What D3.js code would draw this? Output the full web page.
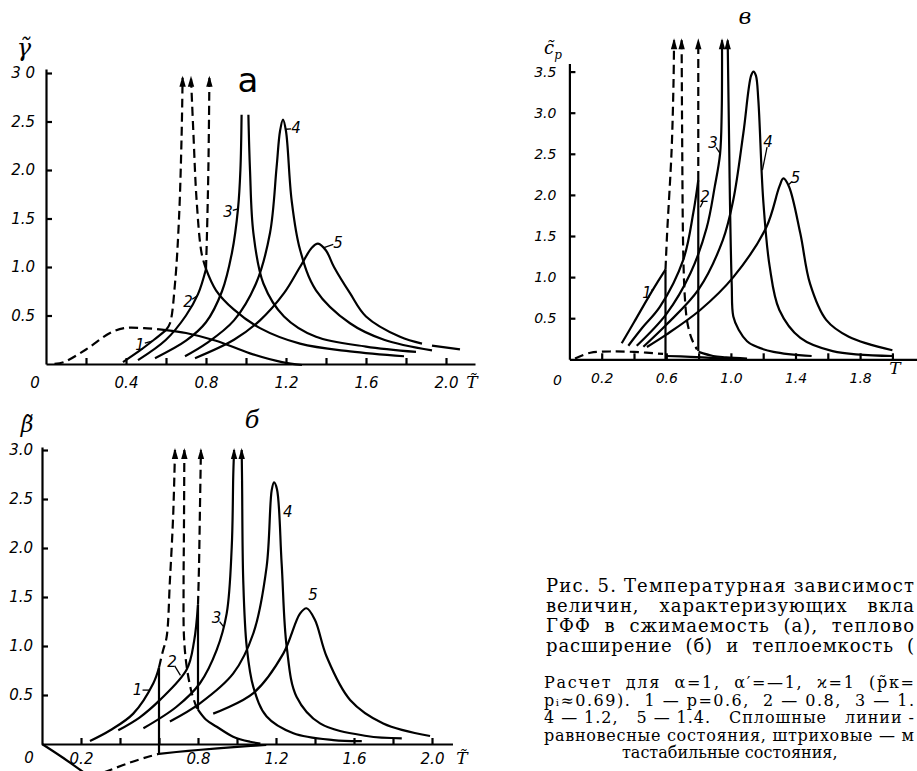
<!DOCTYPE html>
<html>
<head>
<meta charset="utf-8">
<script src="https://cdn.jsdelivr.net/npm/d3@7"></script>
<style>
body { margin: 0; background: #fff; }
svg { display: block; }
.tick text { font-family: "DejaVu Sans", sans-serif; font-style: italic; fill: #000; }
</style>
</head>
<body>
<svg id="fig" width="917" height="771"></svg>
<script>
// ---------- panel a : compressibility (gamma) ----------
const g1Rise = [[0.385,0.02],[0.47,0.14],[0.54,0.25],[0.6,0.35]];
const g1Fall = [[0.6,0.35],[0.7,0.32],[0.85,0.24],[1.02,0.11],[1.18,0.02],[1.28,-0.01]];
const g1Back = [[0.6,0.35],[0.49,0.37],[0.39,0.37],[0.32,0.32],[0.2,0.15],[0.09,0.02],[0.04,0.0]];
const g1Up   = [[0.6,0.35],[0.62,0.42],[0.645,0.83],[0.665,1.5],[0.678,2.35],[0.683,2.95]];
const g2Rise = [[0.46,0.04],[0.6,0.25],[0.7,0.5],[0.76,0.72],[0.8,0.98]];
const g2Fall = [[0.8,0.98],[0.85,0.76],[0.94,0.56],[1.07,0.37],[1.27,0.21],[1.52,0.13],[1.79,0.08]];
const g2Back = [[0.8,0.98],[0.778,1.14],[0.753,1.69],[0.737,2.38],[0.725,2.95]];
const g2Up   = [[0.8,0.98],[0.805,1.35],[0.812,2.03],[0.817,2.95]];
const g3Rise = [[0.545,0.06],[0.7,0.24],[0.8,0.43],[0.88,0.75],[0.93,1.15],[0.96,1.6],[0.972,2.0],[0.978,2.57]];
const g3Fall = [[1.012,2.57],[1.02,2.0],[1.037,1.35],[1.087,0.83],[1.19,0.49],[1.35,0.28],[1.6,0.18],[1.85,0.125]];
const g4 = [[0.695,0.08],[0.8,0.21],[0.94,0.45],[1.05,0.83],[1.12,1.35],[1.153,2.03],[1.17,2.4],[1.185,2.52],[1.2,2.4],[1.228,1.69],[1.27,1.18],[1.35,0.76],[1.52,0.42],[1.69,0.25],[1.93,0.14]];
const g5 = [[0.745,0.06],[0.94,0.25],[1.07,0.45],[1.19,0.73],[1.27,1.0],[1.33,1.2],[1.36,1.24],[1.4,1.17],[1.44,1.0],[1.52,0.73],[1.6,0.49],[1.77,0.28],[1.88,0.21]];
const g5Tail = [[1.93,0.19],[2.07,0.15]];
const gArrows = [0.683, 0.725, 0.817];
const gLabels = [["1",0.47,0.2,0.53,0.235],["2",0.71,0.64,0.755,0.7],["3",0.91,1.57,0.96,1.6],["4",1.25,2.43,1.2,2.42],["5",1.46,1.25,1.39,1.2]];
const gTicksX = [0.2,0.4,0.6,0.8,1.0,1.2,1.4,1.6,1.8,2.0];
const gTickLabelsX = ["","0.4","","0.8","","1.2","","1.6","","2.0"];
const gTicksY = [0.5,1.0,1.5,2.0,2.5,3.0];
const gTickLabelsY = ["0.5","1.0","1.5","2.0","2.5","3 0"];

// ---------- panel б : thermal expansion (beta) ----------
const b1Rise = [[0.246,0.03],[0.35,0.14],[0.468,0.31],[0.571,0.62],[0.6,0.78]];
const b1Jump = [[0.6,0.78],[0.6,-0.1]];
const b1High = [[0.6,-0.1],[0.75,-0.07],[0.9,-0.045],[1.07,-0.02],[1.15,-0.01]];
const b1Neg  = [[0,0],[0.1,-0.13],[0.2,-0.27],[0.27,-0.37]];
const b1NegDash = [[0.25,-0.34],[0.35,-0.265],[0.45,-0.19],[0.545,-0.13],[0.6,-0.1]];
const b1Up   = [[0.6,0.78],[0.62,0.95],[0.639,1.09],[0.656,1.67],[0.673,2.35],[0.682,3.0]];
const b2Rise = [[0.391,0.14],[0.5,0.27],[0.605,0.45],[0.742,0.76],[0.78,1.05],[0.8,1.42]];
const b2Jump = [[0.8,1.42],[0.8,0.35]];
const b2Fall = [[0.8,0.35],[0.84,0.25],[0.896,0.176],[0.98,0.075],[1.067,0.023],[1.12,0.005]];
const b2Back = [[0.795,0.36],[0.768,0.52],[0.742,0.79],[0.728,1.1],[0.726,1.6],[0.728,2.2],[0.73,3.0]];
const b2Up   = [[0.8,1.42],[0.805,1.8],[0.81,2.4],[0.815,3.0]];
const b3Rise = [[0.52,0.16],[0.69,0.38],[0.81,0.62],[0.896,0.96],[0.947,1.33],[0.973,2.01],[0.981,2.76],[0.985,3.0]];
const b3Fall = [[1.024,3.0],[1.026,2.69],[1.032,1.67],[1.05,0.99],[1.084,0.58],[1.152,0.28],[1.289,0.11],[1.494,0.04],[1.64,0.03]];
const b4 = [[0.656,0.23],[0.81,0.415],[0.981,0.72],[1.084,1.13],[1.152,1.81],[1.178,2.59],[1.19,2.67],[1.205,2.6],[1.229,1.84],[1.255,0.99],[1.306,0.48],[1.426,0.21],[1.665,0.082],[1.845,0.058]];
const b5 = [[0.878,0.31],[1.084,0.52],[1.238,0.925],[1.323,1.33],[1.357,1.385],[1.4,1.265],[1.46,0.89],[1.58,0.45],[1.75,0.21],[1.99,0.082]];
const bArrows = [0.682, 0.73, 0.815, 0.985, 1.024];
const bLabels = [["1",0.49,0.55,0.55,0.55],["2",0.667,0.84,0.71,0.7],["3",0.895,1.29,0.93,1.2],["4",1.26,2.37,null,null],["5",1.39,1.52,null,null]];
const bTicksX = [0.2,0.4,0.6,0.8,1.0,1.2,1.4,1.6,1.8,2.0];
const bTickLabelsX = ["0.2","","","0.8","","1.2","","1.6","","2.0"];
const bTicksY = [0.5,1.0,1.5,2.0,2.5,3.0];
const bTickLabelsY = ["0.5","1.0","1.5","2.0","2.5","3.0"];

// ---------- panel в : heat capacity (cp) ----------
const c1Rise = [[0.324,0.195],[0.4,0.45],[0.479,0.72],[0.54,0.92],[0.595,1.09]];
const c1Jump = [[0.595,1.09],[0.595,0.0]];
const c1High = [[0.6,0.04],[0.75,0.03],[0.9,0.015],[1.05,0.005]];
const c1Up   = [[0.595,1.09],[0.605,1.53],[0.633,2.55],[0.645,3.4],[0.648,3.88]];
const c1Back = [[0.035,0.01],[0.13,0.08],[0.25,0.095],[0.4,0.09],[0.58,0.065]];
const c2Back = [[0.695,3.88],[0.698,2.75],[0.705,1.3],[0.715,0.75],[0.73,0.45],[0.757,0.25],[0.79,0.12]];
const c2Rise = [[0.365,0.165],[0.45,0.38],[0.561,0.64],[0.705,1.21],[0.767,1.78],[0.798,2.18]];
const c2Jump = [[0.798,2.18],[0.798,0.1]];
const c2High = [[0.8,0.09],[0.89,0.04],[0.97,0.025],[1.1,0.01]];
const c2Up   = [[0.798,2.18],[0.798,3.88]];
const c3Rise = [[0.417,0.165],[0.6,0.55],[0.75,1.05],[0.85,1.6],[0.9,2.1],[0.933,2.5],[0.943,3.0],[0.945,3.88]];
const c3Fall = [[0.98,3.88],[0.99,2.5],[0.994,1.94],[1.005,0.92],[1.015,0.52],[1.048,0.36],[1.1,0.22],[1.139,0.17],[1.264,0.09],[1.5,0.04]];
const c4 = [[0.458,0.153],[0.6,0.42],[0.8,0.85],[0.95,1.45],[1.015,1.94],[1.077,2.75],[1.125,3.45],[1.14,3.5],[1.155,3.45],[1.17,3.15],[1.2,1.94],[1.24,1.13],[1.3,0.6],[1.43,0.26],[1.63,0.1],[2.0,0.04]];
const c5 = [[0.48,0.15],[0.6,0.3],[0.81,0.6],[1.015,1.0],[1.22,1.61],[1.3,2.1],[1.325,2.2],[1.36,2.1],[1.43,1.53],[1.49,0.92],[1.59,0.48],[1.73,0.275],[2.0,0.11]];
const cArrows = [0.648, 0.695, 0.798, 0.945, 0.98];
const cLabels = [["1",0.48,0.81,0.52,0.85],["2",0.84,1.97,0.81,1.85],["3",0.89,2.63,0.935,2.5],["4",1.23,2.64,1.195,2.3],["5",1.4,2.2,1.355,2.12]];
const cTicksX = [0.2,0.4,0.6,0.8,1.0,1.2,1.4,1.6,1.8,2.0];
const cTickLabelsX = ["0.2","","0.6","","1.0","","1.4","","1.8",""];
const cTicksY = [0.5,1.0,1.5,2.0,2.5,3.0,3.5];
const cTickLabelsY = ["0.5","1.0","1.5","2.0","2.5","3.0","3.5"];

// caption, as much of it as the scan shows
const captionBig = [
    "Рис. 5. Температурная зависимост",
    "величин,   характеризующих   вкла",
    "ГФФ  в  сжимаемость  (а),  теплово",
    "расширение  (б)  и  теплоемкость  ("
];
const captionSmall = [
    "Расчет  для  α=1,  α′=—1,  ϰ=1  (p̃к=",
    "pᵢ≈0.69).  1 — p=0.6,  2 — 0.8,  3 — 1.",
    "4 — 1.2,   5 — 1.4.   Сплошные   линии -",
    "равновесные состояния, штриховые — м",
    "тастабильные состояния,"
];

const svg = d3.select("#fig");

function drawPanel(p) {
    const x = d3.scaleLinear().domain([0, p.xMax]).range([p.left, p.left + p.xMax * p.xUnit]);
    const y = d3.scaleLinear().domain([0, p.yMax]).range([p.bottom, p.bottom - p.yMax * p.yUnit]);
    const g = svg.append("g");

    const xa = d3.axisBottom(x).tickValues(p.ticksX).tickSizeInner(-6).tickSizeOuter(0)
        .tickPadding(p.xPad).tickFormat((d, i) => p.tickLabelsX[i]);
    g.append("g").attr("transform", `translate(0,${p.bottom})`).call(xa)
        .call(s => s.selectAll("text").style("font-size", p.font + "px"));
    const ya = d3.axisLeft(y).tickValues(p.ticksY).tickSizeInner(-6).tickSizeOuter(0)
        .tickPadding(p.yPad).tickFormat((d, i) => p.tickLabelsY[i]);
    g.append("g").attr("transform", `translate(${p.left},0)`).call(ya)
        .call(s => s.selectAll("text").style("font-size", p.font + "px"));
    g.selectAll(".domain, .tick line").attr("stroke", "#000").attr("stroke-width", 2.2);

    // origin "0"
    g.append("text").attr("x", p.left - p.zeroDx).attr("y", p.bottom + p.zeroDy)
        .attr("text-anchor", "middle").style("font-family", "DejaVu Sans").style("font-style", "italic")
        .style("font-size", p.font + "px").text("0");

    const line = d3.line().x(d => x(d[0])).y(d => y(d[1])).curve(d3.curveCatmullRom.alpha(0.5));
    p.curves.forEach(c => {
        g.append("path").attr("d", line(c.pts)).attr("fill", "none").attr("stroke", "#000")
            .attr("stroke-width", 2.2).attr("stroke-dasharray", c.dash ? "9,5" : null);
    });

    // arrow heads on diverging branches
    p.arrows.forEach(t => {
        const ax = x(t), ay = y(p.arrowTip);
        g.append("path").attr("d", `M${ax},${ay - 2}L${ax - 3.2},${ay + 9}L${ax + 3.2},${ay + 9}Z`).attr("fill", "#000");
    });

    // curve numbers with short leaders
    p.labels.forEach(l => {
        const tx = x(l[1]), ty = y(l[2]);
        g.append("text").attr("x", tx).attr("y", ty + 5).attr("text-anchor", "middle")
            .style("font-family", "DejaVu Sans").style("font-style", "italic").style("font-size", "15px").text(l[0]);
        if (l[3] !== null) {
            const ex = x(l[3]), ey = y(l[4]);
            const dx = ex - tx, dy = ey - ty, len = Math.hypot(dx, dy);
            g.append("line").attr("x1", tx + dx / len * 5).attr("y1", ty + dy / len * 5)
                .attr("x2", ex).attr("y2", ey).attr("stroke", "#000").attr("stroke-width", 1.3);
        }
    });
    return g;
}

function sym(x, y, txt, size, family) {
    return svg.append("text").attr("x", x).attr("y", y).attr("text-anchor", "middle")
        .style("font-family", family || "DejaVu Serif").style("font-style", "italic")
        .style("font-size", size + "px").text(txt);
}

drawPanel({
    left: 46, bottom: 364, xUnit: 200, yUnit: 97, xMax: 2.145, yMax: 3.04,
    ticksX: gTicksX, tickLabelsX: gTickLabelsX, ticksY: gTicksY, tickLabelsY: gTickLabelsY,
    xPad: 13, yPad: 11, font: 15, zeroDx: 11, zeroDy: 24, arrowTip: 2.95,
    arrows: gArrows, labels: gLabels,
    curves: [
        {pts: g1Rise}, {pts: g1Fall}, {pts: g1Back, dash: true}, {pts: g1Up, dash: true},
        {pts: g2Rise}, {pts: g2Fall}, {pts: g2Back, dash: true}, {pts: g2Up, dash: true},
        {pts: g3Rise}, {pts: g3Fall}, {pts: g4}, {pts: g5}, {pts: g5Tail}
    ]
});
sym(24, 56, "γ\u0303", 24);
sym(248, 92, "a", 34, "DejaVu Sans").style("font-style", "normal");
sym(472, 388, "T\u0303", 17);

drawPanel({
    left: 42, bottom: 744, xUnit: 195, yUnit: 98, xMax: 2.105, yMax: 3.03,
    ticksX: bTicksX, tickLabelsX: bTickLabelsX, ticksY: bTicksY, tickLabelsY: bTickLabelsY,
    xPad: 9, yPad: 9, font: 15, zeroDx: 13, zeroDy: 19, arrowTip: 3.0,
    arrows: bArrows, labels: bLabels,
    curves: [
        {pts: b1Rise}, {pts: b1Jump}, {pts: b1High}, {pts: b1Neg}, {pts: b1NegDash, dash: true}, {pts: b1Up, dash: true},
        {pts: b2Rise}, {pts: b2Jump}, {pts: b2Fall}, {pts: b2Back, dash: true}, {pts: b2Up, dash: true},
        {pts: b3Rise}, {pts: b3Fall}, {pts: b4}, {pts: b5}
    ]
});
sym(27, 432, "β\u0303", 22);
sym(252, 428, "б", 24);
sym(462, 764, "T\u0303", 17);

drawPanel({
    left: 569.4, bottom: 359.3, xUnit: 161.5, yUnit: 82.2, xMax: 2.15, yMax: 3.6,
    ticksX: cTicksX, tickLabelsX: cTickLabelsX, ticksY: cTicksY, tickLabelsY: cTickLabelsY,
    xPad: 14, yPad: 13, font: 14, zeroDx: 12, zeroDy: 26, arrowTip: 3.88,
    arrows: cArrows, labels: cLabels,
    curves: [
        {pts: c1Rise}, {pts: c1Jump}, {pts: c1High}, {pts: c1Up, dash: true}, {pts: c1Back, dash: true},
        {pts: c2Back, dash: true}, {pts: c2Rise}, {pts: c2Jump}, {pts: c2High}, {pts: c2Up, dash: true},
        {pts: c3Rise}, {pts: c3Fall}, {pts: c4}, {pts: c5}
    ]
});
const cpLbl = sym(553, 54, "c\u0303", 18);
cpLbl.append("tspan").attr("dy", 5).style("font-size", "12px").text("p");
sym(745, 24, "в", 22);
sym(895, 374, "T\u0303", 17);

// caption block, justified to the right edge of the page
const cap = svg.append("g").style("font-family", "DejaVu Serif").attr("fill", "#000");
cap.selectAll("text.big").data(captionBig).join("text").attr("class", "big")
    .attr("x", 546).attr("y", (d, i) => 592 + i * 20)
    .attr("textLength", 368).attr("lengthAdjust", "spacing")
    .style("font-size", "18px")
    .style("white-space", "pre").attr("xml:space", "preserve").text(d => d);
cap.selectAll("text.small").data(captionSmall).join("text").attr("class", "small")
    .attr("x", (d, i) => i === 4 ? 622 : 544).attr("y", (d, i) => 688 + i * 17.5)
    .attr("textLength", (d, i) => i === 4 ? null : 370).attr("lengthAdjust", "spacing")
    .style("font-size", "16px")
    .style("white-space", "pre").attr("xml:space", "preserve").text(d => d);
</script>
</body>
</html>
